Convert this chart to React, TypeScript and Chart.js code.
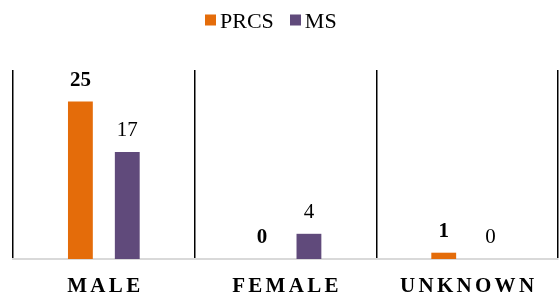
import React, { useEffect, useRef } from "react";
import { Chart, registerables } from "chart.js";

Chart.register(...registerables);

const categories = ["MALE", "FEMALE", "UNKNOWN"];
const seriesNames = ["PRCS", "MS"];
const prcsValues = [25, 0, 1];
const msValues = [17, 4, 0];
const seriesColors = ["#E46C0A", "#604A7B"];

const SERIF = "'Liberation Serif', 'Times New Roman', serif";
const LEGEND_SERIF = '"Times New Roman", Times, serif';

const overlayPlugin = {
  id: "overlay",
  afterDatasetsDraw(chart: any) {
    const ctx = chart.ctx;
    ctx.save();
    ctx.textAlign = "center";
    ctx.textBaseline = "alphabetic";
    ctx.fillStyle = "#000";
    chart.data.datasets.forEach((ds: any, i: number) => {
      const meta = chart.getDatasetMeta(i);
      ctx.font = `${i === 0 ? "bold " : ""}21px ${SERIF}`;
      meta.data.forEach((bar: any, j: number) => {
        ctx.fillText(String(ds.data[j]), bar.x, bar.y - 16);
      });
    });
    // legend
    ctx.font = `22px ${LEGEND_SERIF}`;
    ctx.textAlign = "left";
    const box = 11;
    const gapBoxText = 4;
    const gapItems = 16;
    let x = 205;
    seriesNames.forEach((n, i) => {
      const w = ctx.measureText(n).width;
      ctx.fillStyle = seriesColors[i];
      ctx.fillRect(Math.round(x), 14.5, box, box);
      ctx.fillStyle = "#000";
      ctx.fillText(n, x + box + gapBoxText, 27.5);
      x += box + gapBoxText + w + gapItems;
    });
    ctx.restore();
  },
  afterDraw(chart: any) {
    const ctx = chart.ctx;
    const xs = chart.scales.x;
    ctx.save();
    ctx.textAlign = "center";
    ctx.textBaseline = "alphabetic";
    ctx.fillStyle = "#000";
    ctx.font = `bold 21px ${SERIF}`;
    (ctx as any).letterSpacing = "3.3px";
    categories.forEach((c, j) => {
      ctx.fillText(c, xs.getPixelForValue(j) + 1.5, 292);
    });
    ctx.restore();
  },
};

export default function App() {
  const ref = useRef<HTMLCanvasElement | null>(null);
  useEffect(() => {
    document.body.style.margin = "0";
    const canvas = ref.current!;
    const chart = new Chart(canvas, {
      type: "bar",
      data: {
        labels: categories,
        datasets: [
          {
            label: seriesNames[0],
            data: prcsValues,
            backgroundColor: seriesColors[0],
            categoryPercentage: 0.516,
            barPercentage: 0.53,
          },
          {
            label: seriesNames[1],
            data: msValues,
            backgroundColor: seriesColors[1],
            categoryPercentage: 0.516,
            barPercentage: 0.53,
          },
        ],
      },
      options: {
        responsive: false,
        animation: false,
        events: [],
        layout: { padding: { left: 13, right: 1, top: 70, bottom: 38 } },
        plugins: {
          legend: { display: false },
          tooltip: { enabled: false },
          title: { display: false },
        },
        scales: {
          x: {
            ticks: { display: false },
            grid: {
              offset: true,
              color: "#000",
              lineWidth: 1.5,
              drawTicks: false,
            },
            border: { display: true, color: "#D9D9D9", width: 2 },
          },
          y: {
            display: false,
            min: 0,
            max: 30,
          },
        },
      },
      plugins: [overlayPlugin],
    });
    return () => chart.destroy();
  }, []);
  return (
    <div style={{ width: 559, height: 297 }}>
      <canvas ref={ref} width={559} height={297} style={{ display: "block" }} />
    </div>
  );
}
